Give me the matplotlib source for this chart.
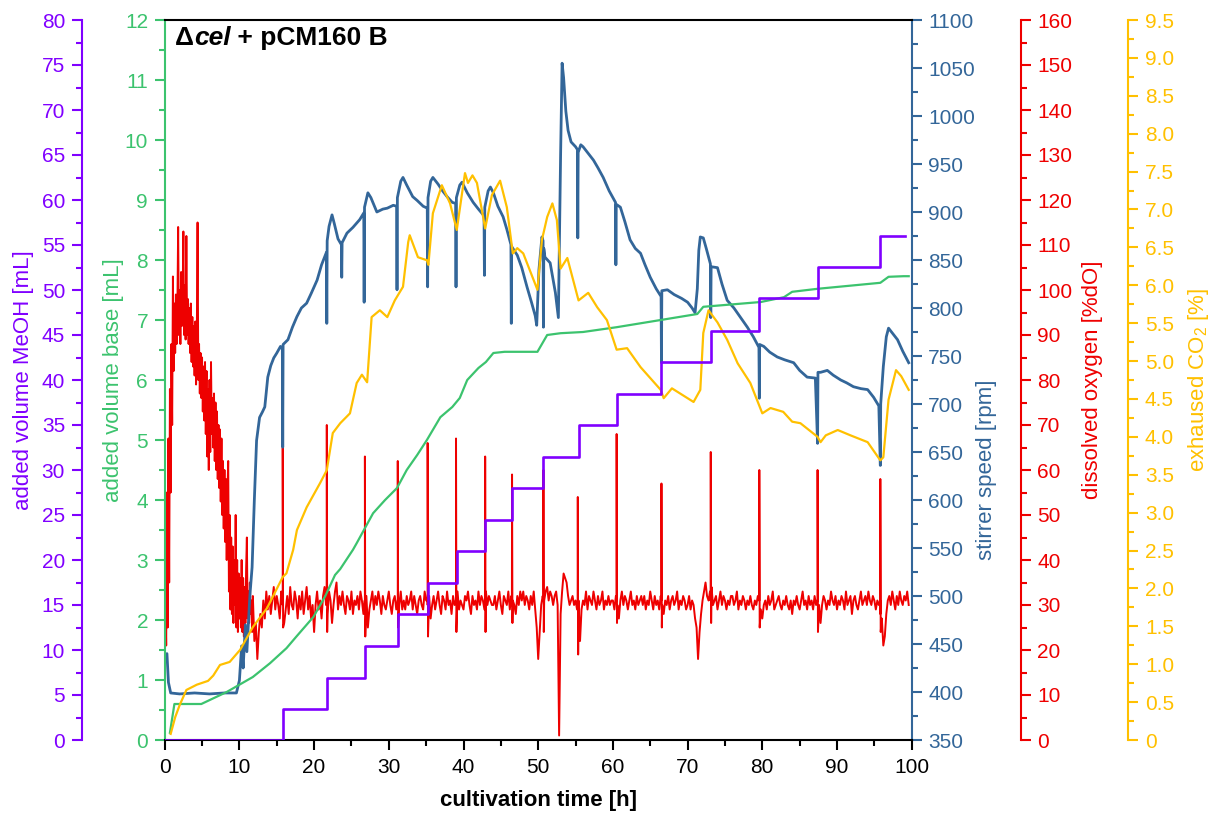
import numpy as np
import matplotlib
matplotlib.use("Agg")
import matplotlib.pyplot as plt
from matplotlib.ticker import MultipleLocator, FuncFormatter
from matplotlib.offsetbox import TextArea, HPacker, AnchoredOffsetbox

plt.rcParams['font.family'] = ['Liberation Sans', 'DejaVu Sans']
plt.rcParams['mathtext.fontset'] = 'custom'
plt.rcParams['mathtext.rm'] = 'Liberation Sans'
plt.rcParams['mathtext.it'] = 'Liberation Sans:italic'
plt.rcParams['mathtext.bf'] = 'Liberation Sans:bold'

PURPLE = '#8000FF'
GREEN = '#3CC36E'
BLUE = '#336699'
RED = '#EE0000'
YELLOW = '#FFC000'

# ---------------- data ----------------
# methanol feed: cumulative volume [mL], stepwise
meoh_t = [0, 15.8, 21.7, 26.8, 31.2, 35.3, 39.1, 42.9, 46.5, 50.7, 55.4,
          60.5, 66.5, 73.1, 79.6, 87.4, 95.8, 99.1]
meoh_ml = [0, 3.4, 6.9, 10.4, 14.0, 17.4, 21.0, 24.4, 28.0, 31.4, 35.0,
           38.4, 42.0, 45.5, 49.1, 52.6, 56.0, 56.0]

# base addition [mL]
base = [(0.7, 0.12), (1.3, 0.6), (4.9, 0.6), (8.3, 0.8), (11.8, 1.05),
        (14.1, 1.28), (16.3, 1.53), (17.6, 1.72), (19.9, 2.05), (21.5, 2.4),
        (22.8, 2.75), (23.5, 2.85), (25.2, 3.17), (25.7, 3.28), (27.9, 3.78),
        (29.5, 4.0), (31.1, 4.2), (32.4, 4.5), (33.8, 4.75), (35.1, 5.0),
        (36.9, 5.38), (38.5, 5.55), (39.5, 5.7), (40.5, 6.0), (42.0, 6.2),
        (43.0, 6.3), (44.0, 6.45), (45.5, 6.47), (49.9, 6.47), (51.2, 6.75),
        (53.0, 6.78), (56.0, 6.8), (60.5, 6.88), (66.4, 7.0), (71.3, 7.1),
        (72.1, 7.22), (79.8, 7.3), (82.9, 7.38), (84.0, 7.47), (87.4, 7.52),
        (95.8, 7.62), (96.9, 7.72), (98.9, 7.73), (99.6, 7.73)]

# exhaust CO2 [%]
co2 = [(0.8, 0.08), (1.4, 0.3), (2.0, 0.46), (2.9, 0.66), (4.3, 0.73),
       (5.8, 0.78), (6.5, 0.85), (7.4, 0.99), (8.7, 1.03), (10.1, 1.19),
       (11.0, 1.35), (11.8, 1.49), (13.7, 1.74), (15.8, 2.15), (16.3, 2.2),
       (17.2, 2.51), (17.7, 2.77), (19.0, 3.07), (20.8, 3.39), (21.7, 3.56),
       (22.5, 4.05), (23.5, 4.18), (24.8, 4.31), (25.7, 4.71), (26.4, 4.82),
       (27.1, 4.72), (27.7, 5.58), (28.8, 5.67), (29.8, 5.58), (30.8, 5.8),
       (31.9, 5.98), (32.6, 6.57), (32.8, 6.66), (33.9, 6.37), (35.1, 6.33),
       (35.3, 6.27), (35.9, 6.95), (37.1, 7.32), (38.2, 7.08), (39.1, 6.73),
       (39.8, 7.21), (40.2, 7.48), (40.6, 7.35), (41.2, 7.45), (41.8, 7.35),
       (42.9, 6.75), (43.8, 7.19), (44.9, 7.38), (45.8, 7.03), (46.6, 6.42),
       (47.2, 6.49), (48.0, 6.42), (49.9, 5.94), (50.5, 6.6), (50.9, 6.77),
       (51.2, 6.9), (51.9, 7.08), (52.5, 6.86), (53.0, 6.22), (53.9, 6.36),
       (55.4, 5.8), (56.7, 5.9), (57.9, 5.71), (59.2, 5.54), (60.5, 5.15),
       (61.9, 5.17), (63.7, 4.92), (66.4, 4.62), (66.8, 4.51), (67.9, 4.64),
       (70.8, 4.46), (71.7, 4.62), (72.1, 5.37), (72.8, 5.67), (74.0, 5.51),
       (75.3, 5.28), (76.7, 4.97), (78.4, 4.71), (80.0, 4.31), (81.1, 4.38),
       (82.8, 4.33), (84.0, 4.2), (85.1, 4.18), (87.4, 4.0), (87.8, 3.93),
       (88.5, 4.02), (90.1, 4.09), (91.8, 4.02), (94.1, 3.93), (95.8, 3.69),
       (96.2, 3.73), (96.9, 4.49), (97.9, 4.88), (98.6, 4.8), (99.6, 4.62)]

# stirrer speed [rpm]
stirrer = [(0.1, 438), (0.3, 440), (0.5, 410), (0.8, 399), (2.0, 398), (4.0, 399),
           (6.0, 398), (8.0, 399), (9.6, 399), (10.0, 412), (10.3, 448), (10.5, 425),
           (10.8, 470), (11.0, 442), (11.4, 500), (11.7, 530), (12.0, 600), (12.3, 662),
           (12.7, 686), (13.1, 692), (13.4, 697), (13.8, 728), (14.2, 740), (14.6, 748),
           (15.0, 753), (15.5, 760), (15.75, 757), (15.8, 655), (15.85, 762), (16.5, 767),
           (17.1, 780), (17.7, 791), (18.3, 800), (19.0, 805), (19.6, 815), (20.4, 829),
           (21.0, 845), (21.5, 855), (21.65, 858), (21.7, 784), (21.75, 870), (22.0, 885),
           (22.4, 897), (22.7, 888), (23.2, 872), (23.65, 866), (23.7, 832), (23.75, 868),
           (24.4, 878), (25.2, 884), (26.1, 892), (26.65, 899), (26.7, 806), (26.75, 905),
           (27.2, 920), (27.6, 915), (28.4, 900), (29.2, 903), (29.8, 904), (30.6, 907),
           (31.05, 906), (31.1, 819), (31.15, 915), (31.6, 932), (31.9, 936), (32.4, 928),
           (33.2, 916), (33.8, 912), (34.6, 906), (35.15, 904), (35.2, 822), (35.25, 915),
           (35.6, 932), (35.9, 936), (36.6, 929), (37.2, 922), (37.8, 916), (38.5, 910),
           (38.95, 909), (39.0, 822), (39.05, 915), (39.5, 928), (39.8, 931), (40.5, 920),
           (41.3, 910), (42.0, 903), (42.75, 896), (42.8, 834), (42.85, 905), (43.3, 922),
           (43.6, 926), (44.0, 920), (44.6, 906), (45.3, 895), (45.8, 882), (46.35, 866),
           (46.4, 784), (46.45, 864), (47.2, 855), (47.8, 842), (48.5, 822), (49.1, 806),
           (49.6, 792), (49.8, 782), (50.1, 840), (50.5, 874), (50.65, 870), (50.7, 780),
           (50.75, 862), (50.9, 853), (51.6, 847), (52.3, 816), (52.7, 790), (53.0, 960),
           (53.2, 1055), (53.4, 1040), (53.7, 1005), (54.0, 985), (54.4, 973), (55.0, 968),
           (55.25, 965), (55.3, 873), (55.35, 962), (55.7, 970), (56.0, 968), (56.7, 961),
           (57.4, 954), (58.0, 946), (58.7, 936), (59.5, 922), (60.35, 910), (60.4, 845),
           (60.45, 908), (61.0, 905), (61.6, 890), (62.3, 871), (63.0, 862), (63.7, 857),
           (64.3, 845), (65.0, 832), (65.8, 820), (66.45, 812), (66.5, 743), (66.55, 818),
           (67.3, 819), (68.2, 814), (69.2, 810), (70.0, 806), (70.6, 800), (71.0, 795),
           (71.3, 820), (71.5, 860), (71.7, 874), (72.1, 873), (72.5, 862), (73.05, 846),
           (73.1, 790), (73.15, 843), (74.0, 842), (74.6, 825), (75.3, 808), (76.2, 800),
           (77.1, 790), (78.0, 780), (78.8, 770), (79.55, 759), (79.6, 706), (79.65, 762),
           (80.2, 760), (81.0, 754), (82.0, 749), (83.0, 746), (84.2, 743), (85.0, 735),
           (86.0, 728), (87.1, 727), (87.4, 659), (87.45, 733), (87.8, 733), (88.7, 735),
           (89.5, 730), (90.5, 725), (91.3, 722), (92.2, 718), (93.2, 716), (94.1, 715),
           (94.9, 707), (95.6, 698), (95.8, 636), (95.85, 700), (96.2, 739), (96.6, 770),
           (96.9, 779), (97.3, 775), (98.1, 767), (98.8, 755), (99.6, 743)]

# dissolved oxygen [%dO], batch phase sampled every 0.1 h
do_early = [22, 30, 21, 55, 25, 67, 35, 78, 55, 88,
            70, 103, 82, 97, 86, 99, 88, 96, 114, 90,
            100, 88, 104, 92, 98, 113, 90, 101, 89, 112,
            90, 98, 88, 96, 86, 97, 84, 94, 83, 92,
            81, 93, 79, 90, 115, 80, 88, 77, 86, 76,
            85, 73, 83, 71, 84, 68, 82, 63, 78, 60,
            80, 64, 84, 68, 76, 65, 77, 62, 75, 60,
            73, 58, 70, 56, 69, 53, 67, 50, 62, 47,
            60, 44, 58, 40, 55, 62, 33, 50, 29, 45,
            28, 43, 26, 40, 30, 50, 25, 40, 24, 37,
            27, 36, 25, 40, 24, 36, 23, 34, 26, 38,
            45, 27, 33, 26, 35, 28, 31, 24, 32, 27]
do_early_t = [round(0.1 * i, 1) for i in range(len(do_early))]

# dissolved oxygen [%dO], fed-batch phase sampled every 0.2 h from 12 h
do_main = [
    22, 26, 18, 24, 28, 25, 31, 27, 33, 29, 32, 28, 31, 34, 29, 32, 30, 27, 33, 30,
    26, 29, 32, 28, 34, 30, 29, 33, 31, 27, 32, 29, 33, 28, 31, 34, 29, 32, 27, 30,
    24, 30, 33, 29, 31, 27, 32, 34, 30, 28, 33, 31, 26, 30, 33, 35, 29, 32, 30, 33,
    30, 28, 32, 31, 29, 33, 28, 31, 30, 32, 29, 33, 31, 28, 30, 32, 25, 29, 31, 33,
    29, 32, 30, 33, 31, 28, 32, 30, 29, 31, 33, 30, 28, 31, 32, 29, 31, 30, 33, 29,
    31, 29, 32, 30, 31, 33, 29, 32, 30, 28, 31, 32, 30, 29, 33, 31, 30, 32, 27, 30,
    32, 29, 31, 33, 30, 28, 32, 31, 29, 33, 30, 31, 28, 32, 30, 31, 33, 29, 31, 30,
    29, 32, 31, 33, 30, 28, 32, 30, 31, 29, 33, 30, 32, 31, 29, 33, 30, 32, 31, 30,
    30, 32, 29, 31, 33, 30, 28, 32, 31, 30, 33, 29, 32, 31, 30, 28, 32, 30, 33, 31,
    33, 30, 32, 31, 29, 32, 30, 33, 29, 25, 18, 24, 30, 32, 31, 33, 34, 31, 33, 32,
    30, 32, 33, 30, 1, 28, 33, 37, 36, 35, 32, 30, 31, 32, 30, 31, 29, 31, 22, 29,
    31, 30, 33, 29, 32, 31, 30, 33, 31, 29, 32, 30, 31, 33, 29, 31, 30, 32, 30, 31,
    31, 29, 32, 30, 27, 31, 33, 30, 32, 31, 29, 31, 33, 30, 31, 29, 32, 30, 31, 32,
    30, 32, 29, 31, 30, 33, 31, 29, 32, 30, 31, 29, 32, 30, 28, 31, 30, 32, 29, 31,
    32, 30, 31, 33, 29, 31, 30, 32, 31, 29, 30, 32, 29, 31, 30, 27, 25, 18, 24, 28,
    31, 33, 35, 32, 31, 33, 34, 30, 31, 32, 29, 31, 33, 30, 32, 31, 29, 31, 30, 32,
    32, 30, 31, 33, 29, 31, 30, 32, 31, 29, 31, 30, 32, 30, 29, 31, 30, 32, 31, 29,
    27, 30, 31, 29, 32, 30, 31, 33, 29, 30, 31, 32, 30, 29, 31, 30, 32, 30, 29, 31,
    28, 31, 30, 32, 30, 29, 31, 33, 30, 31, 29, 32, 30, 31, 29, 32, 30, 31, 30, 26,
    30, 32, 31, 29, 31, 30, 33, 31, 30, 32, 29, 31, 30, 32, 31, 29, 33, 30, 31, 32,
    28, 31, 32, 30, 29, 31, 33, 30, 31, 32, 30, 33, 31, 30, 32, 31, 29, 31, 30, 28,
    27, 21, 23, 28, 31, 32, 30, 33, 31, 29, 32, 30, 33, 31, 30, 32, 31, 33, 30, 32]
do_main_t = [round(12.0 + 0.2 * i, 1) for i in range(len(do_main))]

# short dO peaks at each methanol pulse and the undershoot right after
do_level = 31
do_spike_t = [15.8, 21.7, 26.8, 31.2, 35.2, 39.0, 42.9, 46.5, 50.7, 55.3,
              60.5, 66.5, 73.1, 79.6, 87.4, 95.8]
do_spike_peak = [65, 70, 63, 62, 66, 67, 63, 59, 60, 54,
                 68, 57, 64, 60, 60, 58]
do_spike_low = [25, 24, 23, 25, 23, 24, 24, 26, 24, 19,
                26, 25, 26, 25, 24, 24]

# ---------------- assemble series ----------------
base_t, base_ml = zip(*base)
co2_t, co2_pct = zip(*co2)
stir_t, stir_rpm = zip(*stirrer)

dot = list(do_early_t) + list(do_main_t)
dov = list(do_early) + list(do_main)
for t, p, lo in zip(do_spike_t, do_spike_peak, do_spike_low):
    dot += [t - 0.02, t, t + 0.05]
    dov += [do_level, p, lo]
order = np.argsort(dot, kind='stable')
dot = np.asarray(dot)[order]
dov = np.asarray(dov)[order]
keep = dot <= 99.7
dot, dov = dot[keep], dov[keep]

# ---------------- figure ----------------
fig = plt.figure(figsize=(12.14, 8.18), dpi=100, facecolor='white')
L, B, W, H = 164.7 / 1214, 78 / 818, 747 / 1214, 720 / 818
ax = fig.add_axes([L, B, W, H])            # base volume (green, left)
ax_p = ax.twinx()                           # methanol (purple, far left)
ax_b = ax.twinx()                           # stirrer (blue, right)
ax_r = ax.twinx()                           # dO (red)
ax_y = ax.twinx()                           # CO2 (yellow)

# layering: dO at the back, methanol in front
for a, z in [(ax_r, 1), (ax_b, 2), (ax, 3), (ax_y, 4), (ax_p, 5)]:
    a.set_zorder(z)
    a.patch.set_visible(False)

SW = 1.5
TICK_FS = 15
LABEL_FS = 16

ax.set_xlim(0, 100)
ax.spines['right'].set_visible(False)
ax.spines['left'].set_color(GREEN)
ax.spines['left'].set_linewidth(SW)
for s in ['top', 'bottom']:
    ax.spines[s].set_linewidth(SW)
    ax.spines[s].set_color('black')
ax.xaxis.set_major_locator(MultipleLocator(10))
ax.xaxis.set_minor_locator(MultipleLocator(5))
ax.tick_params(axis='x', which='major', direction='out', length=7, width=SW,
               labelsize=TICK_FS, pad=6, colors='black', top=False)
ax.tick_params(axis='x', which='minor', direction='out', length=4, width=SW, top=False)
ax.set_xlabel('cultivation time [h]', fontsize=LABEL_FS, fontweight='bold', labelpad=9)


def style_y(a, color, lo, hi, major, minor, side, offset_pt, fmt):
    a.set_ylim(lo, hi)
    if a is not ax:
        for s in ['top', 'bottom', 'left', 'right']:
            a.spines[s].set_visible(False)
        a.spines[side].set_visible(True)
        a.spines[side].set_color(color)
        a.spines[side].set_linewidth(SW)
        a.spines[side].set_position(('outward', offset_pt))
        if side == 'left':
            a.yaxis.tick_left()
            a.yaxis.set_label_position('left')
        else:
            a.yaxis.tick_right()
            a.yaxis.set_label_position('right')
    a.yaxis.set_major_locator(MultipleLocator(major))
    a.yaxis.set_minor_locator(MultipleLocator(minor))
    a.tick_params(axis='y', which='major', direction='out', length=7, width=SW,
                  colors=color, labelsize=TICK_FS, pad=5)
    a.tick_params(axis='y', which='minor', direction='out', length=4, width=SW,
                  colors=color)
    a.yaxis.set_major_formatter(fmt)


int_fmt = FuncFormatter(lambda v, p: f'{v:.0f}')
half_fmt = FuncFormatter(lambda v, p: '0' if abs(v) < 1e-9 else f'{v:.1f}')

style_y(ax, GREEN, 0, 12, 1, 0.5, 'left', 0, int_fmt)
style_y(ax_p, PURPLE, 0, 80, 5, 2.5, 'left', 83 * 0.72, int_fmt)
style_y(ax_b, BLUE, 350, 1100, 50, 25, 'right', 0, int_fmt)
style_y(ax_r, RED, 0, 160, 10, 5, 'right', 109 * 0.72, int_fmt)
style_y(ax_y, YELLOW, 0, 9.5, 0.5, 0.25, 'right', 216.6 * 0.72, half_fmt)

ax.set_ylabel('added volume base [mL]', fontsize=LABEL_FS, color=GREEN)
ax_p.set_ylabel('added volume MeOH [mL]', fontsize=LABEL_FS, color=PURPLE)
ax_b.set_ylabel('stirrer speed [rpm]', fontsize=LABEL_FS, color=BLUE)
ax_r.set_ylabel('dissolved oxygen [%dO]', fontsize=LABEL_FS, color=RED)
ax_y.set_ylabel('exhaused CO$_2$ [%]', fontsize=LABEL_FS, color=YELLOW)

ax_p.yaxis.set_label_coords(-0.175, 0.5)
ax.yaxis.set_label_coords(-0.0545, 0.5)
ax_b.yaxis.set_label_coords(1.086, 0.375)
ax_r.yaxis.set_label_coords(1.228, 0.5)
ax_y.yaxis.set_label_coords(1.367, 0.5)

# ---------------- series ----------------
ax_r.plot(dot, dov, color=RED, lw=1.4)
ax_b.plot(stir_t, stir_rpm, color=BLUE, lw=2.0)
ax.plot(base_t, base_ml, color=GREEN, lw=1.6)
ax_y.plot(co2_t, co2_pct, color=YELLOW, lw=1.6)
ax_p.plot(meoh_t, meoh_ml, color=PURPLE, lw=1.9, drawstyle='steps-post')

# ---------------- title ----------------
tp = dict(fontsize=19, fontweight='bold', color='black')
title = HPacker(children=[TextArea('\u0394', textprops=tp),
                          TextArea('cel', textprops=dict(tp, fontstyle='italic')),
                          TextArea(' + pCM160 B', textprops=tp)],
                align='baseline', pad=0, sep=0)
anch = AnchoredOffsetbox(loc='upper left', child=title, pad=0, borderpad=0,
                         frameon=False, bbox_to_anchor=(0.0134, 0.991),
                         bbox_transform=ax.transAxes)
ax_p.add_artist(anch)

fig.savefig('out.png', dpi=100, facecolor='white')
